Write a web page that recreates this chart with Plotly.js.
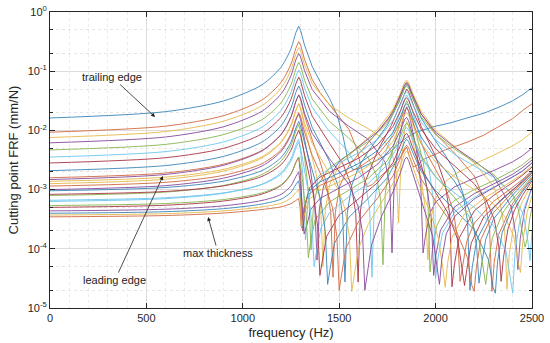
<!DOCTYPE html>
<html>
<head>
<meta charset="utf-8">
<script src="https://cdn.plot.ly/plotly-3.0.1.min.js"></script>
<style>
  html, body { margin: 0; padding: 0; background: #fff; }
  #chart { width: 550px; height: 343px; }
</style>
</head>
<body>
<div id="chart"></div>
<script>
// frequency grid (Hz) shared by every cutting point up to the 1st resonance
const lowFreq = [0, 600, 900, 1100, 1200, 1250, 1275, 1290];

// log10 of the FRF (mm/N) on lowFreq, one row per cutting point:
// trailing edge first, max thickness near row 16, leading edge last
const lowLog = [
  [-1.79, -1.683, -1.502, -1.229, -0.924, -0.618, -0.352, -0.24],
  [-2.03, -1.928, -1.751, -1.484, -1.182, -0.878, -0.613, -0.50],
  [-2.12, -2.019, -1.844, -1.580, -1.280, -0.976, -0.712, -0.60],
  [-2.21, -2.111, -1.938, -1.675, -1.377, -1.075, -0.810, -0.70],
  [-2.33, -2.236, -2.071, -1.817, -1.525, -1.226, -0.964, -0.85],
  [-2.45, -2.358, -2.195, -1.943, -1.653, -1.355, -1.093, -0.98],
  [-2.55, -2.461, -2.303, -2.056, -1.770, -1.474, -1.215, -1.10],
  [-2.68, -2.594, -2.439, -2.196, -1.914, -1.620, -1.360, -1.25],
  [-2.80, -2.719, -2.571, -2.337, -2.061, -1.771, -1.513, -1.40],
  [-2.90, -2.825, -2.688, -2.466, -2.201, -1.918, -1.663, -1.55],
  [-3.00, -2.933, -2.807, -2.601, -2.351, -2.076, -1.827, -1.72],
  [-3.10, -3.042, -2.930, -2.744, -2.513, -2.252, -2.011, -1.90],
  [-3.20, -3.153, -3.062, -2.908, -2.711, -2.477, -2.252, -2.15],
  [-3.30, -3.264, -3.193, -3.075, -2.927, -2.737, -2.542, -2.45],
  [-3.40, -3.373, -3.322, -3.243, -3.159, -3.044, -2.917, -2.85],
  [-3.46, -3.438, -3.396, -3.336, -3.290, -3.236, -3.184, -3.15],
  [-3.43, -3.406, -3.360, -3.291, -3.228, -3.144, -3.052, -3.00],
  [-3.36, -3.331, -3.274, -3.183, -3.078, -2.935, -2.780, -2.70],
  [-3.27, -3.235, -3.168, -3.055, -2.914, -2.731, -2.542, -2.45],
  [-3.18, -3.137, -3.055, -2.914, -2.736, -2.517, -2.301, -2.20],
  [-3.08, -3.031, -2.937, -2.777, -2.575, -2.336, -2.107, -2.00],
  [-3.02, -2.964, -2.857, -2.678, -2.454, -2.198, -1.960, -1.85],
  [-2.94, -2.877, -2.759, -2.562, -2.321, -2.053, -1.807, -1.70],
  [-2.86, -2.789, -2.659, -2.445, -2.188, -1.909, -1.658, -1.55],
  [-2.83, -2.744, -2.589, -2.346, -2.064, -1.770, -1.510, -1.40]
];

// [frequency (Hz), log10 FRF] above the 1st resonance, same row order
const highLog = [
  [[1300,-0.31],[1320,-0.56],[1360,-0.92],[1400,-1.17],[1450,-1.46],[1490,-1.75],[1520,-2.1],[1545,-2.5],[1570,-2.66],[1600,-2.65],[1650,-2.58],[1700,-2.5],[1760,-2.38],[1815,-2.21],[1850,-2.12],[1900,-2.03],[1986,-1.94],[2080,-1.87],[2163,-1.79],[2250,-1.71],[2334,-1.6],[2400,-1.5],[2450,-1.4],[2500,-1.28]],
  [[1300,-0.56],[1320,-0.8],[1360,-1.14],[1400,-1.36],[1450,-1.57],[1500,-1.76],[1550,-1.98],[1590,-2.3],[1620,-2.7],[1645,-2.95],[1670,-2.92],[1700,-2.82],[1780,-2.58],[1820,-2.44],[1840,-2.34],[1850,-2.28],[1865,-2.45],[1885,-2.62],[1910,-2.58],[1930,-2.5],[2050,-2.33],[2163,-2.2],[2250,-2.08],[2334,-1.93],[2400,-1.8],[2453,-1.66],[2500,-1.55]],
  [[1300,-0.66],[1320,-0.89],[1360,-1.21],[1450,-1.57],[1550,-1.79],[1650,-1.97],[1720,-2.12],[1773,-2.36],[1796,-2.71],[1808,-3.56],[1820,-2.57],[1840,-1.99],[1850,-1.85],[1860,-1.92],[1880,-2.17],[1900,-2.44],[1925,-2.81],[1948,-3.36],[1960,-4.19],[1972,-3.57],[1995,-3.18],[2050,-2.87],[2100,-2.74],[2200,-2.57],[2300,-2.42],[2400,-2.26],[2450,-2.16],[2500,-2.03]],
  [[1300,-0.76],[1320,-0.99],[1360,-1.31],[1450,-1.68],[1550,-1.93],[1650,-2.15],[1739,-2.54],[1762,-2.93],[1774,-4.07],[1786,-2.79],[1809,-2.18],[1835,-1.76],[1850,-1.6],[1860,-1.68],[1880,-1.97],[1900,-2.31],[1923,-2.9],[1935,-4.07],[1947,-3.79],[1970,-3.4],[2000,-3.21],[2100,-2.95],[2200,-2.81],[2300,-2.68],[2400,-2.53],[2450,-2.43],[2500,-2.3]],
  [[1300,-0.91],[1320,-1.15],[1360,-1.47],[1450,-1.85],[1550,-2.13],[1650,-2.46],[1692,-2.75],[1715,-3.17],[1727,-4.27],[1739,-3.07],[1762,-2.53],[1800,-2.04],[1835,-1.62],[1850,-1.5],[1860,-1.57],[1880,-1.8],[1925,-2.38],[1936,-2.54],[1959,-3.09],[1971,-4.39],[1983,-4.02],[2006,-3.61],[2050,-3.33],[2100,-3.18],[2200,-3.0],[2300,-2.85],[2400,-2.68],[2450,-2.58],[2500,-2.45]],
  [[1300,-1.04],[1320,-1.28],[1360,-1.61],[1450,-2.02],[1550,-2.37],[1635,-2.88],[1658,-3.33],[1670,-4.48],[1682,-3.25],[1705,-2.75],[1750,-2.28],[1800,-1.85],[1835,-1.5],[1850,-1.4],[1860,-1.46],[1880,-1.68],[1925,-2.16],[1965,-2.63],[1988,-3.16],[2000,-4.5],[2012,-4.17],[2035,-3.74],[2100,-3.37],[2200,-3.13],[2300,-2.96],[2400,-2.79],[2450,-2.68],[2500,-2.55]],
  [[1300,-1.17],[1320,-1.41],[1360,-1.76],[1450,-2.22],[1520,-2.57],[1563,-2.93],[1586,-3.4],[1598,-4.56],[1610,-3.36],[1633,-2.88],[1700,-2.34],[1770,-1.92],[1810,-1.61],[1835,-1.39],[1850,-1.3],[1860,-1.35],[1880,-1.54],[1925,-1.93],[2000,-2.44],[2050,-2.91],[2073,-3.41],[2085,-4.64],[2097,-4.28],[2120,-3.83],[2200,-3.36],[2300,-3.1],[2400,-2.88],[2450,-2.76],[2500,-2.62]],
  [[1300,-1.32],[1320,-1.57],[1360,-1.95],[1420,-2.33],[1450,-2.53],[1495,-2.95],[1518,-3.43],[1530,-4.56],[1542,-3.39],[1565,-2.93],[1600,-2.62],[1650,-2.36],[1750,-1.91],[1810,-1.52],[1835,-1.3],[1850,-1.22],[1860,-1.26],[1880,-1.44],[1925,-1.79],[2000,-2.18],[2050,-2.42],[2100,-2.69],[2143,-3.07],[2166,-3.55],[2178,-4.7],[2190,-4.31],[2213,-3.85],[2300,-3.31],[2400,-3.0],[2450,-2.86],[2500,-2.7]],
  [[1300,-1.48],[1320,-1.75],[1360,-2.16],[1400,-2.52],[1433,-2.88],[1456,-3.38],[1468,-4.48],[1480,-3.38],[1503,-2.94],[1550,-2.6],[1650,-2.21],[1750,-1.84],[1810,-1.47],[1835,-1.26],[1850,-1.18],[1860,-1.22],[1880,-1.39],[1925,-1.72],[2000,-2.06],[2100,-2.39],[2200,-2.77],[2257,-3.2],[2280,-3.66],[2292,-4.72],[2304,-4.23],[2327,-3.76],[2400,-3.23],[2450,-3.01],[2500,-2.8]],
  [[1300,-1.64],[1320,-1.93],[1360,-2.45],[1381,-2.74],[1404,-3.28],[1416,-4.3],[1428,-3.33],[1451,-2.91],[1500,-2.59],[1600,-2.27],[1700,-1.98],[1780,-1.64],[1820,-1.35],[1840,-1.18],[1850,-1.15],[1860,-1.19],[1880,-1.36],[1925,-1.68],[2000,-2.0],[2100,-2.28],[2200,-2.55],[2300,-2.94],[2335,-3.23],[2358,-3.68],[2370,-4.68],[2382,-4.09],[2405,-3.61],[2450,-3.2],[2500,-2.9]],
  [[1300,-1.82],[1320,-2.15],[1350,-2.64],[1373,-3.22],[1385,-4.19],[1397,-3.33],[1420,-2.93],[1500,-2.53],[1600,-2.28],[1700,-2.02],[1780,-1.69],[1820,-1.4],[1840,-1.23],[1850,-1.2],[1860,-1.24],[1880,-1.4],[1925,-1.72],[2000,-2.03],[2100,-2.29],[2200,-2.51],[2300,-2.77],[2392,-3.29],[2415,-3.74],[2427,-4.35],[2439,-3.83],[2462,-3.34],[2500,-2.95]],
  [[1300,-2.03],[1319,-2.42],[1342,-3.07],[1354,-4.02],[1366,-3.3],[1389,-2.92],[1450,-2.63],[1550,-2.4],[1650,-2.19],[1750,-1.88],[1810,-1.52],[1840,-1.28],[1850,-1.25],[1860,-1.29],[1880,-1.45],[1925,-1.77],[2000,-2.07],[2100,-2.32],[2200,-2.53],[2300,-2.74],[2400,-3.1],[2429,-3.33],[2452,-3.77],[2464,-3.97],[2476,-3.82],[2488,-3.5],[2500,-3.3]],
  [[1300,-2.35],[1313,-2.81],[1325,-3.85],[1337,-3.25],[1360,-2.93],[1400,-2.75],[1500,-2.55],[1600,-2.38],[1700,-2.15],[1780,-1.83],[1820,-1.55],[1840,-1.38],[1850,-1.35],[1860,-1.39],[1880,-1.55],[1925,-1.86],[2000,-2.16],[2100,-2.41],[2200,-2.6],[2300,-2.79],[2400,-3.07],[2455,-3.42],[2478,-3.85],[2490,-4.2],[2500,-3.7]],
  [[1300,-2.76],[1312,-3.7],[1324,-3.26],[1347,-2.97],[1400,-2.79],[1500,-2.63],[1600,-2.47],[1700,-2.24],[1780,-1.93],[1820,-1.65],[1840,-1.48],[1850,-1.45],[1860,-1.49],[1880,-1.66],[1925,-1.98],[2000,-2.31],[2100,-2.61],[2200,-2.9],[2260,-3.16],[2305,-3.51],[2328,-3.97],[2340,-4.55],[2352,-4.15],[2375,-3.67],[2410,-3.34],[2450,-3.1],[2500,-2.85]],
  [[1298,-3.05],[1306,-3.65],[1318,-3.31],[1341,-3.03],[1400,-2.87],[1500,-2.72],[1600,-2.56],[1700,-2.34],[1780,-2.03],[1820,-1.75],[1840,-1.58],[1850,-1.55],[1860,-1.59],[1880,-1.77],[1925,-2.11],[2000,-2.47],[2100,-2.87],[2150,-3.14],[2190,-3.49],[2213,-3.96],[2225,-4.58],[2237,-4.3],[2260,-3.84],[2300,-3.5],[2400,-3.09],[2450,-2.92],[2500,-2.75]],
  [[1297,-3.3],[1303,-3.62],[1315,-3.35],[1338,-3.09],[1400,-2.93],[1500,-2.79],[1600,-2.63],[1700,-2.41],[1780,-2.09],[1820,-1.82],[1840,-1.65],[1850,-1.62],[1860,-1.67],[1880,-1.85],[1925,-2.22],[2000,-2.66],[2050,-2.96],[2092,-3.36],[2115,-3.85],[2127,-4.55],[2139,-4.32],[2162,-3.87],[2200,-3.57],[2300,-3.2],[2400,-2.96],[2450,-2.83],[2500,-2.68]],
  [[1298,-3.18],[1305,-3.63],[1317,-3.45],[1340,-3.18],[1400,-3.01],[1500,-2.87],[1600,-2.71],[1700,-2.49],[1780,-2.18],[1820,-1.9],[1840,-1.73],[1850,-1.7],[1860,-1.74],[1880,-1.9],[1925,-2.22],[2000,-2.53],[2100,-2.79],[2200,-3.0],[2300,-3.24],[2360,-3.46],[2405,-3.79],[2428,-4.23],[2440,-4.4],[2452,-3.88],[2475,-3.38],[2500,-3.1]],
  [[1300,-2.94],[1306,-3.18],[1318,-3.75],[1330,-3.63],[1353,-3.33],[1400,-3.15],[1500,-2.97],[1600,-2.8],[1700,-2.57],[1780,-2.26],[1820,-1.98],[1840,-1.81],[1850,-1.78],[1860,-1.84],[1880,-2.07],[1925,-2.57],[1955,-2.96],[1978,-3.49],[1990,-4.45],[2002,-4.1],[2025,-3.69],[2100,-3.29],[2200,-3.07],[2300,-2.91],[2400,-2.74],[2450,-2.63],[2500,-2.5]],
  [[1300,-2.6],[1305,-2.71],[1328,-3.4],[1340,-4.15],[1352,-3.87],[1375,-3.51],[1450,-3.21],[1550,-3.01],[1650,-2.81],[1750,-2.51],[1810,-2.15],[1840,-1.91],[1850,-1.88],[1860,-1.92],[1880,-2.09],[1925,-2.43],[2000,-2.78],[2100,-3.14],[2170,-3.43],[2225,-3.86],[2248,-4.33],[2260,-4.6],[2272,-4.27],[2295,-3.81],[2350,-3.38],[2400,-3.16],[2450,-2.97],[2500,-2.78]],
  [[1300,-2.31],[1320,-2.67],[1335,-2.95],[1358,-3.56],[1370,-4.3],[1382,-4.05],[1405,-3.65],[1450,-3.39],[1550,-3.12],[1650,-2.9],[1750,-2.58],[1810,-2.23],[1840,-1.98],[1850,-1.95],[1860,-1.99],[1880,-2.15],[1925,-2.47],[2000,-2.79],[2100,-3.06],[2200,-3.3],[2300,-3.61],[2365,-4.04],[2388,-4.49],[2400,-4.75],[2412,-4.05],[2435,-3.56],[2470,-3.21],[2500,-3.0]],
  [[1300,-2.09],[1320,-2.4],[1365,-3.07],[1388,-3.62],[1400,-4.45],[1412,-4.21],[1435,-3.79],[1500,-3.43],[1600,-3.15],[1700,-2.88],[1780,-2.54],[1820,-2.25],[1840,-2.08],[1850,-2.05],[1860,-2.1],[1880,-2.28],[1925,-2.64],[2000,-3.05],[2060,-3.37],[2115,-3.85],[2138,-4.33],[2150,-4.62],[2162,-4.35],[2185,-3.9],[2250,-3.46],[2350,-3.14],[2450,-2.87],[2500,-2.72]],
  [[1300,-1.93],[1320,-2.21],[1360,-2.67],[1405,-3.19],[1428,-3.71],[1440,-4.6],[1452,-4.35],[1475,-3.91],[1550,-3.47],[1650,-3.15],[1750,-2.8],[1810,-2.43],[1840,-2.19],[1850,-2.15],[1860,-2.19],[1880,-2.36],[1925,-2.69],[2000,-3.02],[2100,-3.34],[2200,-3.68],[2275,-4.19],[2298,-4.65],[2310,-4.75],[2322,-4.2],[2345,-3.73],[2400,-3.29],[2450,-3.04],[2500,-2.82]],
  [[1300,-1.77],[1320,-2.03],[1360,-2.42],[1420,-2.86],[1465,-3.3],[1488,-3.79],[1500,-4.7],[1512,-4.44],[1535,-3.99],[1600,-3.54],[1700,-3.14],[1780,-2.76],[1820,-2.46],[1840,-2.29],[1850,-2.25],[1860,-2.29],[1880,-2.47],[1925,-2.82],[2000,-3.19],[2100,-3.64],[2165,-4.15],[2188,-4.62],[2200,-4.72],[2212,-4.3],[2235,-3.84],[2300,-3.39],[2400,-3.04],[2450,-2.89],[2500,-2.72]],
  [[1300,-1.62],[1320,-1.87],[1360,-2.22],[1450,-2.73],[1500,-3.04],[1530,-3.33],[1553,-3.8],[1565,-4.72],[1577,-4.47],[1600,-4.0],[1650,-3.59],[1700,-3.32],[1780,-2.89],[1820,-2.57],[1840,-2.39],[1850,-2.35],[1860,-2.4],[1880,-2.6],[1925,-3.01],[1975,-3.41],[2015,-3.83],[2038,-4.34],[2050,-4.65],[2062,-4.25],[2085,-3.81],[2150,-3.41],[2250,-3.15],[2350,-2.95],[2450,-2.74],[2500,-2.6]],
  [[1300,-1.46],[1320,-1.71],[1360,-2.05],[1450,-2.48],[1550,-2.91],[1598,-3.28],[1621,-3.73],[1633,-4.7],[1645,-4.42],[1668,-3.93],[1720,-3.45],[1780,-3.03],[1820,-2.69],[1840,-2.49],[1850,-2.45],[1860,-2.51],[1880,-2.71],[1925,-3.16],[1985,-3.79],[2008,-4.31],[2020,-4.6],[2032,-4.18],[2055,-3.75],[2100,-3.45],[2200,-3.16],[2300,-2.97],[2400,-2.79],[2450,-2.69],[2500,-2.55]]
];

// MATLAB default colour order, a bit washed out like the source
const lineColors = ["#3a86b8", "#d0683f", "#e6b84a", "#86499a", "#86b54c", "#6cc6ee", "#a83447"];

const xTickVals = [0, 500, 1000, 1500, 2000, 2500];
const yTickVals = [1e-5, 1e-4, 1e-3, 1e-2, 1e-1, 1];
const yTickText = ["10<sup>-5</sup>", "10<sup>-4</sup>", "10<sup>-3</sup>", "10<sup>-2</sup>", "10<sup>-1</sup>", "10<sup>0</sup>"];

// callouts: text, arrow tip (Hz, log10 FRF), text offset in px
const noteText = ["trailing edge", "leading edge", "max thickness"];
const noteFreq = [545, 586, 820];
const noteLog = [-1.774, -2.77, -3.463];
const noteDx = [-43, -48, 10];
const noteDy = [-40, 104, 36];

const font = "Liberation Sans, Arial, Helvetica, sans-serif";
const toMag = v => Math.pow(10, v);

// each cutting point is drawn as a smooth rise up to the 1st peak
// and a straight-segment part above it, in the same colour
const traces = [];
lowLog.forEach((row, i) => {
  const color = lineColors[i % lineColors.length];
  traces.push({
    x: lowFreq, y: row.map(toMag),
    type: "scatter", mode: "lines",
    line: { color: color, width: 1, shape: "spline", smoothing: 0.8 },
    opacity: 0.9, hoverinfo: "skip"
  });
  traces.push({
    x: [lowFreq[lowFreq.length - 1]].concat(highLog[i].map(p => p[0])),
    y: [row[row.length - 1]].concat(highLog[i].map(p => p[1])).map(toMag),
    type: "scatter", mode: "lines",
    line: { color: color, width: 1 },
    opacity: 0.9, hoverinfo: "skip"
  });
});

const annotations = noteText.map((t, i) => ({
  x: noteFreq[i], y: noteLog[i], xref: "x", yref: "y",
  ax: noteDx[i], ay: noteDy[i],
  text: t, showarrow: true,
  arrowhead: 2, arrowsize: 1, arrowwidth: 0.8, arrowcolor: "#222",
  font: { family: font, size: 11, color: "#222" }
}));

const layout = {
  width: 550, height: 343,
  margin: { l: 50, r: 18, t: 12, b: 35 },
  paper_bgcolor: "#fff", plot_bgcolor: "#fff",
  showlegend: false,
  hovermode: false,
  font: { family: font, size: 11, color: "#262626" },
  xaxis: {
    range: [0, 2500],
    tickvals: xTickVals,
    ticks: "inside", ticklen: 5, tickcolor: "#262626",
    showline: true, linecolor: "#262626", linewidth: 1, mirror: "ticks",
    showgrid: true, gridcolor: "#dcdcdc", gridwidth: 1,
    zeroline: false,
    minor: { dtick: 100, showgrid: true, gridcolor: "#ebebeb", griddash: "dot" },
    tickfont: { size: 11, color: "#262626" },
    title: { text: "frequency (Hz)", font: { size: 13, color: "#262626" }, standoff: 4 }
  },
  yaxis: {
    type: "log",
    range: [-5, 0],
    tickvals: yTickVals, ticktext: yTickText,
    ticks: "inside", ticklen: 5, tickcolor: "#262626",
    showline: true, linecolor: "#262626", linewidth: 1, mirror: "ticks",
    showgrid: true, gridcolor: "#dcdcdc", gridwidth: 1,
    zeroline: false,
    minor: { ticks: "inside", ticklen: 3, tickcolor: "#262626", showgrid: true, gridcolor: "#e6e6e6", griddash: "dot" },
    tickfont: { size: 11, color: "#262626" },
    title: { text: "Cutting point FRF (mm/N)", font: { size: 13, color: "#262626" }, standoff: 6 }
  },
  annotations: annotations
};

Plotly.newPlot("chart", traces, layout, { displayModeBar: false, staticPlot: true });
</script>
</body>
</html>
